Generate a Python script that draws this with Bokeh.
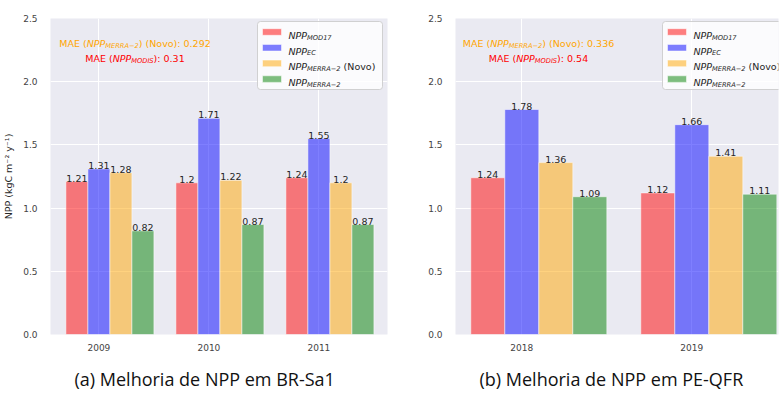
from bokeh.plotting import figure
from bokeh.models import ColumnDataSource, FixedTicker, Label, BoxAnnotation, PrintfTickFormatter, Range1d
from bokeh.layouts import row
from bokeh.transform import dodge
from bokeh.embed import file_html
from bokeh.resources import INLINE
from bokeh.core.properties import value

# ---------------- data ----------------
years_a = ["2009", "2010", "2011"]
mod17_a = [1.21, 1.20, 1.24]
ec_a = [1.31, 1.71, 1.55]
merra_novo_a = [1.28, 1.22, 1.20]
merra_a = [0.82, 0.87, 0.87]
mae_novo_a = 0.292
mae_modis_a = 0.31

years_b = ["2018", "2019"]
mod17_b = [1.24, 1.12]
ec_b = [1.78, 1.66]
merra_novo_b = [1.36, 1.41]
merra_b = [1.09, 1.11]
mae_novo_b = 0.336
mae_modis_b = 0.54

y_ticks = [0.0, 0.5, 1.0, 1.5, 2.0, 2.5]
captions = ["(a) Melhoria de NPP em BR-Sa1", "(b) Melhoria de NPP em PE-QFR"]
legend_subs = ["MOD17", "EC", "MERRA\u22122", "MERRA\u22122"]
legend_tails = ["", "", "\u00a0(Novo)", ""]
series_keys = ["mod17", "ec", "merra_novo", "merra"]
colors = ["red", "blue", "orange", "green"]
ylabel = "NPP (kgC m\u207b\u00b2 y\u207b\u00b9)"

# ---------------- styling / layout constants ----------------
offsets = [-0.2, 0.0, 0.2, 0.4]
bar_w = 0.2
FONT = "DejaVu Sans"
FS = 9.5
FRAME_TOP, FRAME_BOT = 19, 335
SY = (FRAME_BOT - FRAME_TOP) / 2.5

W = {' ': 651, '\u00a0': 651, '(': 799, ')': 799, ':': 690, '.': 651, '-': 739, '\u2212': 1716,
     'A': 1401, 'C': 1430, 'D': 1577, 'E': 1294, 'I': 604, 'M': 1767, 'N': 1532,
     'O': 1612, 'P': 1235, 'R': 1423, 'S': 1300, 'o': 1253, 'v': 1212}
for d in "0123456789":
    W[d] = 1303


def tw(s, size):
    return sum(W.get(c, 1250) for c in s) / 2048.0 * size


def make_panel(years, data, mae_novo, mae_modis, caption, g, with_ylabel):
    n = len(years)
    src = ColumnDataSource(dict(
        x=list(range(n)),
        **{k: data[k] for k in series_keys},
        **{k + "_lbl": [str(v) for v in data[k]] for k in series_keys},
    ))
    x0 = g["x_start"]
    sx = g["sx"]
    fw = g["frame_w"]
    p = figure(frame_width=fw, frame_height=FRAME_BOT - FRAME_TOP,
               x_range=Range1d(x0, x0 + fw / sx), y_range=Range1d(0, 2.5),
               output_backend="svg", toolbar_location=None,
               title=caption, title_location="below",
               min_border_left=g["mbl"], min_border_right=g["mbr"],
               min_border_top=18, min_border_bottom=40)
    p.background_fill_color = "#EAEAF2"
    p.border_fill_color = "white"
    p.outline_line_color = None
    p.grid.grid_line_color = "white"
    p.grid.grid_line_width = 1

    for ax in (p.xaxis[0], p.yaxis[0]):
        ax.axis_line_color = None
        ax.major_tick_line_color = None
        ax.minor_tick_line_color = None
        ax.major_label_text_font = FONT
        ax.major_label_text_font_size = "9px"
        ax.major_label_text_color = "#444444"
        ax.major_label_standoff = 7
    p.xaxis.major_label_standoff = 3
    p.xaxis.ticker = FixedTicker(ticks=list(range(n)))
    p.xaxis.major_label_overrides = {i: y for i, y in enumerate(years)}
    p.yaxis.ticker = FixedTicker(ticks=y_ticks)
    p.yaxis.formatter = PrintfTickFormatter(format="%.1f")
    p.xgrid.ticker = FixedTicker(ticks=list(range(n)))
    p.ygrid.ticker = FixedTicker(ticks=y_ticks)
    if with_ylabel:
        p.yaxis.axis_label = ylabel
        p.yaxis.axis_label_text_font = FONT
        p.yaxis.axis_label_text_font_size = "9.5px"
        p.yaxis.axis_label_text_font_style = "normal"
        p.yaxis.axis_label_text_color = "#262626"
        p.yaxis.axis_label_standoff = 6

    p.title.text_font = "Open Sans"
    p.title.text_font_size = "18px"
    p.title.text_font_style = "normal"
    p.title.text_color = "#111111"
    p.title.align = "left"
    p.title.offset = 24
    if "standoff" in p.title.properties():
        p.title.standoff = 22

    for k, c, off in zip(series_keys, colors, offsets):
        p.vbar(x=dodge("x", off), top=k, width=bar_w, source=src,
               fill_color=c, fill_alpha=0.5, line_color="white", line_alpha=0.5, line_width=1)
        p.text(x=dodge("x", off), y=k, text=k + "_lbl", source=src,
               text_align="center", text_baseline="bottom",
               text_font=value(FONT), text_font_size=f"{FS}px", text_color="#262626")

    fl = g["frame_left"]

    def dx(px):
        return x0 + (px - fl) / sx

    def dy(py):
        return (FRAME_BOT - py) / SY

    def compose(pieces, start_px, base_py, color):
        cx = start_px
        for txt, italic, scale, drop in pieces:
            size = FS * scale
            p.add_layout(Label(x=dx(cx), y=dy(base_py + drop), text=txt,
                               text_font=FONT, text_font_size=f"{size:.2f}px",
                               text_font_style="italic" if italic else "normal",
                               text_color=color, text_align="left", text_baseline="alphabetic"))
            cx += tw(txt, size)

    def width_of(pieces):
        return sum(tw(t, FS * s) for t, _, s, _ in pieces)

    # MAE annotations
    l1 = [("MAE (", False, 1, 0), ("NPP", True, 1, 0), ("MERRA\u22122", True, 0.7, 2),
          (f") (Novo): {mae_novo}", False, 1, 0)]
    l2 = [("MAE (", False, 1, 0), ("NPP", True, 1, 0), ("MODIS", True, 0.7, 2),
          (f"): {mae_modis}", False, 1, 0)]
    cxm = g["mae_cx"]
    compose(l1, cxm - width_of(l1) / 2, 44, "orange")
    compose(l2, cxm - width_of(l2) / 2, 59, "red")

    # legend
    bl = g["leg_left"]
    p.add_layout(BoxAnnotation(left=dx(bl), right=dx(bl + 125), top=dy(22), bottom=dy(90),
                               fill_color="white", fill_alpha=0.8, line_color="#cccccc",
                               line_alpha=0.9, line_width=1, border_radius=3))
    for i, (sub, tail, c) in enumerate(zip(legend_subs, legend_tails, colors)):
        rc = 32.5 + 15.7 * i
        p.add_layout(BoxAnnotation(left=dx(bl + 5), right=dx(bl + 24), top=dy(rc - 3.3),
                                   bottom=dy(rc + 3.3), fill_color=c, fill_alpha=0.5,
                                   line_color="white", line_alpha=0.5, line_width=1))
        pcs = [("NPP", True, 1, 0), (sub, True, 0.7, 2)]
        if tail:
            pcs.append((tail, False, 1, 0))
        compose(pcs, bl + 31, rc + 3.5, "#262626")
    return p


data_a = dict(mod17=mod17_a, ec=ec_a, merra_novo=merra_novo_a, merra=merra_a)
data_b = dict(mod17=mod17_b, ec=ec_b, merra_novo=merra_novo_b, merra=merra_b)

geom_a = dict(x_start=-0.44, sx=110.0, frame_w=337, frame_left=50, mbl=42, mbr=38,
              mae_cx=134.5, leg_left=257)
geom_b = dict(x_start=-0.39, sx=170.0, frame_w=323, frame_left=455, mbl=30, mbr=2,
              mae_cx=538.0, leg_left=662)

p1 = make_panel(years_a, data_a, mae_novo_a, mae_modis_a, captions[0], geom_a, True)
p2 = make_panel(years_b, data_b, mae_novo_b, mae_modis_b, captions[1], geom_b, False)

layout = row(p1, p2)
open("out.html", "w").write(file_html(layout, INLINE))
